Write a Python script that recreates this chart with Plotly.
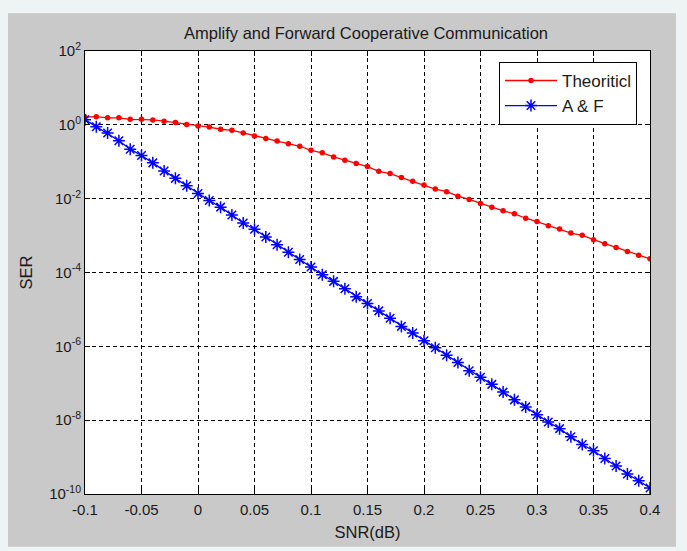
import plotly.graph_objects as go

# ---- data ----
snr_db = [-0.10, -0.09, -0.08, -0.07, -0.06, -0.05, -0.04, -0.03, -0.02, -0.01,
          0.00, 0.01, 0.02, 0.03, 0.04, 0.05, 0.06, 0.07, 0.08, 0.09,
          0.10, 0.11, 0.12, 0.13, 0.14, 0.15, 0.16, 0.17, 0.18, 0.19,
          0.20, 0.21, 0.22, 0.23, 0.24, 0.25, 0.26, 0.27, 0.28, 0.29,
          0.30, 0.31, 0.32, 0.33, 0.34, 0.35, 0.36, 0.37, 0.38, 0.39, 0.40]

ser_theoretical = [1.62, 1.66, 1.55, 1.55, 1.41, 1.41, 1.36, 1.26, 1.15, 1.02,
                   0.933, 0.871, 0.759, 0.708, 0.603, 0.501, 0.427, 0.363, 0.309, 0.263,
                   0.204, 0.174, 0.135, 0.110, 0.0891, 0.0741, 0.0550, 0.0479, 0.0372, 0.0295,
                   0.0234, 0.0182, 0.0155, 0.0117, 0.00955, 0.00741, 0.00589, 0.00468, 0.00389, 0.00295,
                   0.00240, 0.00186, 0.00151, 0.00117, 0.00102, 7.76e-4, 6.03e-4, 4.79e-4, 3.72e-4, 2.95e-4,
                   2.34e-4]

ser_af = [1.38, 0.891, 0.603, 0.372, 0.219, 0.148, 0.0933, 0.0562, 0.0355, 0.0224,
          0.0138, 0.00891, 0.00589, 0.00363, 0.00219, 0.00148, 9.12e-4, 5.62e-4, 3.55e-4, 2.24e-4,
          1.41e-4, 8.71e-5, 5.75e-5, 3.63e-5, 2.19e-5, 1.45e-5, 9.12e-6, 5.75e-6, 3.47e-6, 2.29e-6,
          1.41e-6, 9.12e-7, 5.75e-7, 3.63e-7, 2.19e-7, 1.45e-7, 9.33e-8, 5.75e-8, 3.55e-8, 2.29e-8,
          1.41e-8, 8.91e-9, 5.89e-9, 3.55e-9, 2.19e-9, 1.48e-9, 9.12e-10, 5.75e-10, 3.47e-10, 2.29e-10,
          1.45e-10]

x_ticks = [-0.1, -0.05, 0, 0.05, 0.1, 0.15, 0.2, 0.25, 0.3, 0.35, 0.4]
x_tick_text = ["-0.1", "-0.05", "0", "0.05", "0.1", "0.15", "0.2", "0.25", "0.3", "0.35", "0.4"]
y_ticks = [1e2, 1e0, 1e-2, 1e-4, 1e-6, 1e-8, 1e-10]
y_tick_text = ["10<sup>2</sup>", "10<sup>0</sup>", "10<sup>-2</sup>", "10<sup>-4</sup>",
               "10<sup>-6</sup>", "10<sup>-8</sup>", "10<sup>-10</sup>"]

FONT = "Liberation Sans, Arial, sans-serif"
TXT = "#1a1a1a"

fig = go.Figure()
fig.add_trace(go.Scatter(
    x=snr_db, y=ser_theoretical, name="Theoriticl", mode="lines+markers",
    line=dict(color="#ff0000", width=1.3),
    marker=dict(symbol="circle", size=5.5, color="#ff0000"),
))
fig.add_trace(go.Scatter(
    x=snr_db, y=ser_af, name="A & F", mode="lines+markers",
    line=dict(color="#0000ff", width=1.3),
    marker=dict(symbol="asterisk-open", size=10, color="#0000ff",
                line=dict(color="#0000ff", width=1.5)),
))

L, R, T, B = 85, 37, 51, 54
W, H = 687, 551
pw, ph = W - L - R, H - T - B

def px_x(p):
    return (p - L) / pw

def px_y(p):
    return (H - B - p) / ph

fig.add_shape(type="rect", xref="paper", yref="paper", layer="below",
              x0=px_x(8), x1=px_x(676), y0=px_y(550), y1=px_y(13),
              fillcolor="#c9c9c9", line=dict(width=0))
fig.add_shape(type="rect", xref="paper", yref="paper", layer="below",
              x0=0, x1=1, y0=0, y1=1,
              fillcolor="#ffffff", line=dict(width=0))

axis_common = dict(
    showline=True, linecolor="#000000", linewidth=1, mirror="ticks",
    ticks="inside", ticklen=5, tickcolor="#000000", tickwidth=1,
    showgrid=True, gridcolor="#000000", gridwidth=1, griddash="4px,3px",
    zeroline=False,
    tickfont=dict(family=FONT, size=15, color=TXT),
)

fig.update_xaxes(
    range=[-0.1, 0.4], tickmode="array", tickvals=x_ticks, ticktext=x_tick_text,
    ticklabelstandoff=2,
    title=dict(text="SNR(dB)", font=dict(family=FONT, size=16.5, color=TXT), standoff=9),
    **axis_common,
)
fig.update_yaxes(
    type="log", range=[-10, 2], tickmode="array", tickvals=y_ticks, ticktext=y_tick_text,
    title=dict(text="SER", font=dict(family=FONT, size=16.5, color=TXT), standoff=12),
    **axis_common,
)

fig.update_layout(
    width=W, height=H,
    margin=dict(l=L, r=R, t=T, b=B),
    paper_bgcolor="#eef3f3",
    plot_bgcolor="#ffffff",
    title=dict(text="Amplify and Forward Cooperative Communication",
               font=dict(family=FONT, size=16.5, color=TXT),
               x=px_x(366) * pw / W + L / W, xanchor="center",
               y=1 - 33 / H, yanchor="middle"),
    legend=dict(
        x=px_x(499), y=px_y(62), xanchor="left", yanchor="top",
        bgcolor="#ffffff", bordercolor="#000000", borderwidth=1,
        font=dict(family=FONT, size=17, color=TXT),
        itemwidth=52, tracegroupgap=0,
    ),
    showlegend=True,
)

fig.write_html("out.html")
